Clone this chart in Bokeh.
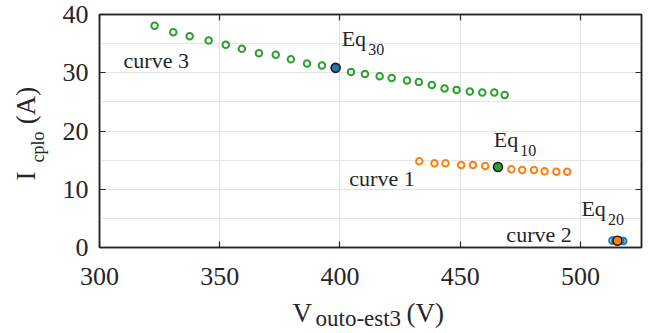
from bokeh.plotting import figure
from bokeh.models import Range1d, FixedTicker, LinearAxis, Label, ColumnDataSource, Grid, Title
from bokeh.embed import file_html
from bokeh.resources import INLINE

# ---- data ----
curve3_v = [322.9, 330.7, 337.5, 345.4, 352.5, 359.2, 366.3, 373.3, 379.6, 386.3, 392.5, 398.2,
            404.6, 410.4, 416.5, 421.5, 427.9, 432.8, 438.2, 443.5, 448.5, 454.0, 459.2, 464.2, 468.5]
curve3_i = [38.06, 36.96, 36.27, 35.53, 34.80, 34.10, 33.35, 33.08, 32.30, 31.60, 31.24, 30.84,
            30.15, 29.80, 29.40, 29.10, 28.66, 28.40, 27.90, 27.30, 27.06, 26.77, 26.60, 26.60, 26.20]

curve1_v = [433.0, 439.3, 443.9, 450.4, 455.3, 460.4, 465.7, 471.3, 475.8, 480.7, 485.1, 490.0, 494.5]
curve1_i = [14.79, 14.45, 14.45, 14.18, 14.18, 14.00, 13.83, 13.42, 13.32, 13.32, 13.08, 13.02, 13.02]

curve2_v = [513.3, 514.5, 515.6, 516.7, 517.8]
curve2_i = [1.22, 1.20, 1.17, 1.15, 1.13]

eq_names = ["Eq10", "Eq20", "Eq30"]
eq_v = [465.7, 515.4, 398.2]
eq_i = [13.83, 1.17, 30.84]

x_ticks = [300, 350, 400, 450, 500]
y_ticks = [0, 10, 20, 30, 40]

BLUE = "#1f77b4"
ORANGE = "#ff7f0e"
GREEN = "#2ca02c"
eq_colors = [GREEN, ORANGE, BLUE]

FONT = "Liberation Serif"
TXT = "#262626"
NB = "\u00a0"

p = figure(width=650, height=333,
           x_range=Range1d(300, 525.4), y_range=Range1d(0, 40),
           output_backend="svg", toolbar_location=None,
           min_border_left=99, min_border_right=9, min_border_top=14, min_border_bottom=86,
           x_axis_location=None, y_axis_location=None)
p.background_fill_color = "white"
p.border_fill_color = "white"
p.outline_line_color = TXT
p.outline_line_width = 1.5


def style_axis(ax, show_labels, standoff):
    ax.axis_line_color = TXT
    ax.axis_line_width = 1.5
    ax.major_tick_line_color = TXT
    ax.major_tick_line_width = 1.2
    ax.major_tick_in = 6
    ax.major_tick_out = 0
    ax.minor_tick_line_color = None
    if show_labels:
        ax.major_label_text_font = FONT
        ax.major_label_text_font_size = "26px"
        ax.major_label_text_color = TXT
        ax.major_label_standoff = standoff
    else:
        ax.major_label_text_font_size = "1px"
        ax.major_label_text_color = None
        ax.major_label_standoff = 0


xb = LinearAxis(ticker=FixedTicker(ticks=x_ticks))
xt = LinearAxis(ticker=FixedTicker(ticks=x_ticks))
yl = LinearAxis(ticker=FixedTicker(ticks=y_ticks))
yr = LinearAxis(ticker=FixedTicker(ticks=y_ticks))
style_axis(xb, True, 20)
style_axis(xt, False, 0)
style_axis(yl, True, 11)
style_axis(yr, False, 0)
p.add_layout(xb, "below")
p.add_layout(xt, "above")
p.add_layout(yl, "left")
p.add_layout(yr, "right")

p.add_layout(Grid(dimension=0, ticker=FixedTicker(ticks=x_ticks), grid_line_color="#e3e3e3", grid_line_width=1))
p.add_layout(Grid(dimension=1, ticker=FixedTicker(ticks=y_ticks), grid_line_color="#e3e3e3", grid_line_width=1))

p.scatter(curve3_v, curve3_i, marker="circle", size=6.5, fill_color=None, line_color=GREEN, line_width=2)
p.scatter(curve1_v, curve1_i, marker="circle", size=6.5, fill_color=None, line_color=ORANGE, line_width=2)
p.scatter(curve2_v, curve2_i, marker="circle", size=6.5, fill_color=None, line_color=BLUE, line_width=2)

eq_src = ColumnDataSource(dict(x=eq_v, y=eq_i, c=eq_colors))
p.scatter("x", "y", source=eq_src, marker="circle", size=9, fill_color="c", line_color="#1a1a1a", line_width=1.6)

LIFT = 8  # px


def lab(x, y, text, size, xo=0, yo=0):
    p.add_layout(Label(x=x, y=y, text=text, x_offset=xo, y_offset=yo + LIFT,
                       text_font=FONT, text_font_size=size, text_color=TXT,
                       text_align="left", text_baseline="alphabetic"))


# curve labels
lab(310.0, 30.72, "curve 3", "22px")
lab(403.9, 10.45, "curve 1", "22px")
lab(469.2, 0.88, "curve 2", "22px")

# equilibrium labels with subscripts
eq_lab_pos = {"Eq30": (400.7, 34.5), "Eq10": (464.0, 17.1), "Eq20": (500.4, 5.29)}
for name, (lx, ly) in eq_lab_pos.items():
    lab(lx, ly, "Eq", "22px")
    lab(lx, ly, name[2:], "16px", xo=26.5, yo=-10.5)


def side_title(text, size, place, offset, standoff, valign):
    t = Title(text=text, text_font=FONT, text_font_size=size, text_color=TXT,
              text_font_style="normal", align="left", vertical_align=valign,
              offset=offset, standoff=standoff)
    p.add_layout(t, place)


# x-axis label:  V_{outo-est3} (V)
side_title("V" + NB * 14 + "(V)", "27px", "below", 193, -80.2, "bottom")
side_title("outo-est3", "23px", "below", 216, -87, "bottom")

# y-axis label:  I_{cplo} (A)
side_title("cplo", "18px", "left", 85, 20.2, "top")
side_title("I" + NB * 7 + "(A)", "27px", "left", 67, -47.8, "bottom")

open("out.html", "w").write(file_html(p, INLINE))
